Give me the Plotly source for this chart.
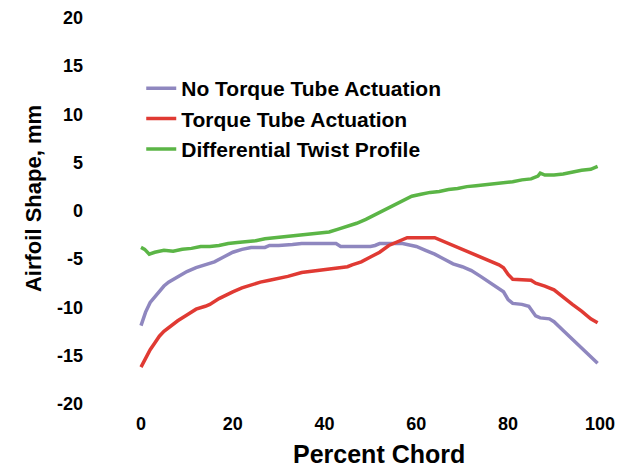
import plotly.graph_objects as go

# ---- data ----
x_no = [0, 1, 2, 3, 4, 5, 6, 8, 10, 12, 14, 16, 18, 20, 22, 24, 26, 27, 28, 30, 33, 35, 40, 42.5, 43.5,
        50, 51, 52, 57, 58, 60, 62, 64, 66, 68, 70, 72, 74, 76, 78, 79, 80, 81, 83, 84.5, 86, 87, 89, 90,
        92, 94, 96, 98, 99.5]
y_no = [-11.9, -10.5, -9.5, -8.9, -8.3, -7.8, -7.4, -6.8, -6.3, -5.9, -5.6, -5.3, -4.8, -4.3, -4.0, -3.8,
        -3.8, -3.8, -3.6, -3.6, -3.5, -3.4, -3.4, -3.4, -3.7, -3.7, -3.6, -3.4, -3.4, -3.5, -3.7, -4.1,
        -4.5, -5.0, -5.5, -5.8, -6.2, -6.8, -7.4, -8.0, -8.4, -9.2, -9.6, -9.7, -9.9, -10.9, -11.1, -11.2,
        -11.5, -12.4, -13.3, -14.2, -15.1, -15.8]

x_tt = [0, 1, 2, 3, 4, 5, 6, 7, 8, 10, 12, 14, 15, 17, 19, 20, 22, 24, 26, 28, 30, 32, 35, 38, 41, 45, 46,
        48, 50, 52, 54, 56, 58, 64, 66, 68, 70, 72, 74, 76, 78, 79, 80, 81, 85, 86, 88, 90, 92, 94, 96, 98,
        99.5]
y_tt = [-16.2, -15.2, -14.4, -13.7, -13.0, -12.5, -12.1, -11.8, -11.4, -10.8, -10.2, -9.9, -9.7, -9.1, -8.6,
        -8.4, -8.0, -7.7, -7.4, -7.2, -7.0, -6.8, -6.4, -6.2, -6.0, -5.8, -5.6, -5.3, -4.8, -4.3, -3.6, -3.2,
        -2.8, -2.8, -3.2, -3.6, -4.0, -4.4, -4.8, -5.2, -5.6, -5.9, -6.6, -7.1, -7.2, -7.5, -7.8, -8.2, -9.0,
        -9.7, -10.4, -11.2, -11.6]

x_dt = [0, 0.8, 1.8, 3, 5, 7, 9, 11, 13, 15, 17, 19, 21, 23, 25, 27, 29, 31, 33, 35, 37, 39, 41, 43, 45,
        47, 49, 51, 53, 55, 57, 59, 61, 63, 65, 67, 69, 71, 73, 75, 77, 79, 81, 83, 85, 86.5, 87, 88, 90,
        92, 94, 96, 98, 99.5]
y_dt = [-3.8, -4.0, -4.5, -4.3, -4.1, -4.2, -4.0, -3.9, -3.7, -3.7, -3.6, -3.4, -3.3, -3.2, -3.1, -2.9,
        -2.8, -2.7, -2.6, -2.5, -2.4, -2.3, -2.2, -1.9, -1.6, -1.3, -0.9, -0.4, 0.1, 0.6, 1.1, 1.5, 1.7,
        1.9, 2.0, 2.2, 2.3, 2.5, 2.6, 2.7, 2.8, 2.9, 3.0, 3.2, 3.3, 3.6, 3.9, 3.7, 3.7, 3.8, 4.0, 4.2, 4.3,
        4.6]

names = ["No Torque Tube Actuation", "Torque Tube Actuation", "Differential Twist Profile"]
colors = ["#8F87BF", "#E03A33", "#5BB546"]
x_ticks = [0, 20, 40, 60, 80, 100]
x_tick_labels = ["0", "20", "40", "60", "80", "100"]
y_ticks = [-20, -15, -10, -5, 0, 5, 10, 15, 20]
y_tick_labels = ["-20", "-15", "-10", "-5", "0", "5", "10", "15", "20"]
x_title = "Percent Chord"
y_title = "Airfoil Shape, mm"

FONT = "Liberation Sans, Arial, sans-serif"

fig = go.Figure()
for i, (xs, ys) in enumerate([(x_no, y_no), (x_tt, y_tt), (x_dt, y_dt)]):
    fig.add_trace(go.Scatter(x=xs, y=ys, mode="lines", name=names[i], legendgroup=str(i),
                             line=dict(color=colors[i], width=3.5)))

fig.update_layout(
    width=615, height=461,
    margin=dict(l=80, r=13, t=2, b=58, autoexpand=False),
    plot_bgcolor="white", paper_bgcolor="white",
    font=dict(family=FONT, color="black", weight="bold"),
    showlegend=True,
    legend=dict(x=0.102, y=0.855, xanchor="left", yanchor="top", bgcolor="rgba(0,0,0,0)",
                font=dict(size=21, family=FONT, weight="bold"), tracegroupgap=0, itemwidth=30),
    xaxis=dict(range=[-11.55, 102.2], tickvals=x_ticks, ticktext=x_tick_labels, showgrid=False,
               zeroline=False, showline=False, ticks="",
               tickfont=dict(size=18, family=FONT, weight="bold")),
    yaxis=dict(range=[-20.75, 20.8], tickvals=y_ticks, ticktext=y_tick_labels, showgrid=False,
               zeroline=False, showline=False, ticks="", ticklabelstandoff=4,
               tickfont=dict(size=18, family=FONT, weight="bold")),
    annotations=[
        dict(text=x_title, xref="paper", yref="paper", x=0.557, y=-0.1072, xanchor="center",
             yanchor="middle", showarrow=False, font=dict(size=25, family=FONT, weight="bold")),
        dict(text=y_title, xref="paper", yref="paper", x=-0.1034, y=0.5287, xanchor="center",
             yanchor="middle", textangle=-90, showarrow=False,
             font=dict(size=22, family=FONT, weight="bold")),
    ],
)

fig.write_html("out.html")
